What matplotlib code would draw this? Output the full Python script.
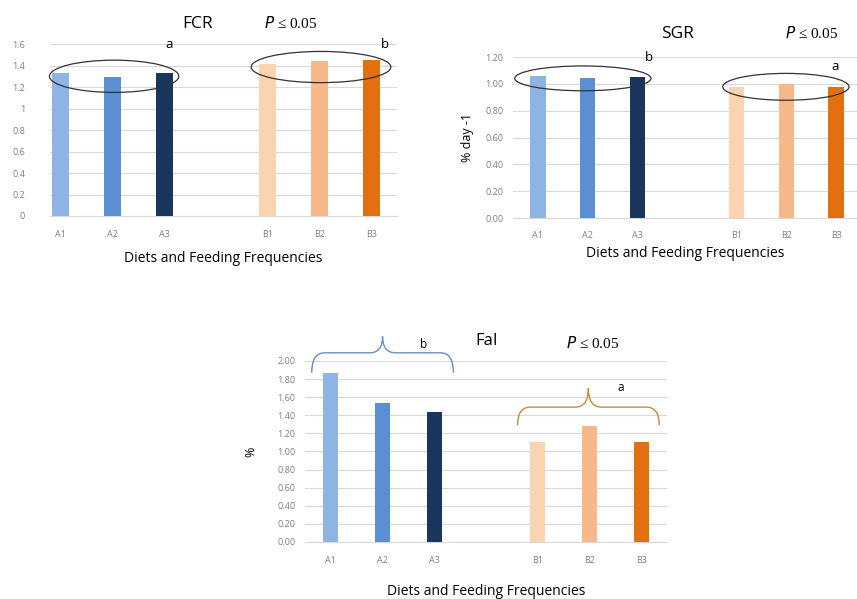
import numpy as np
from matplotlib import pyplot as plt
from matplotlib.patches import Ellipse, PathPatch
from matplotlib.path import Path
from matplotlib.ticker import FuncFormatter

plt.rcParams['font.family'] = ['Open Sans', 'DejaVu Sans']

categories = ['A1', 'A2', 'A3', 'B1', 'B2', 'B3']
fcr = [1.33, 1.29, 1.33, 1.41, 1.44, 1.45]
sgr = [1.06, 1.04, 1.05, 0.98, 1.00, 0.98]
fai = [1.87, 1.54, 1.44, 1.10, 1.28, 1.11]
colors = ['#8DB4E2', '#5A8FD3', '#1B365D', '#FAD4B0', '#F7B98A', '#E2700E']

pos = np.r_[0:3, 4:7]
grid_c = '#D9D9D9'
tick_c = '#7F7F7F'


def style(ax, vals, yticks, fmt, width, ypad=6, xpad=8):
    ax.bar(pos, vals, width=width, color=colors, zorder=3)
    ax.set_xticks(pos)
    ax.set_xticklabels(categories, fontsize=5.5, color=tick_c)
    ax.set_yticks(yticks)
    ax.yaxis.set_major_formatter(FuncFormatter(fmt))
    ax.set_ylim(yticks[0], yticks[-1])
    ax.tick_params(length=0, labelsize=6.5, labelcolor=tick_c)
    ax.tick_params(axis='y', pad=ypad)
    ax.tick_params(axis='x', pad=xpad)
    ax.grid(axis='y', color=grid_c, lw=0.8, zorder=0)
    for s in ['top', 'right', 'left']:
        ax.spines[s].set_visible(False)
    ax.spines['bottom'].set_color(grid_c)
    ax.set_facecolor('none')


def brace(ax, x0, x1, yh, yend, ytip, color):
    xc = (x0 + x1) / 2
    r = 0.25
    verts = [(x0, yend), (x0, yh), (x0 + r, yh),
             (xc - r, yh), (xc, yh), (xc, ytip),
             (xc, yh), (xc + r, yh),
             (x1 - r, yh), (x1, yh), (x1, yend)]
    codes = [Path.MOVETO, Path.CURVE3, Path.CURVE3,
             Path.LINETO, Path.CURVE3, Path.CURVE3,
             Path.CURVE3, Path.CURVE3,
             Path.LINETO, Path.CURVE3, Path.CURVE3]
    ax.add_patch(PathPatch(Path(verts, codes), fill=False, ec=color, lw=1.0,
                           clip_on=False, zorder=5))


fig = plt.figure(figsize=(8.57, 5.99), dpi=100)

pfont = dict(family='Liberation Serif', fontsize=11)
ptext = r'$\it{P}$' + ' ≤ 0.05'

# FCR
ax1 = fig.add_axes([0.0583, 0.6394, 0.405, 0.2871])
style(ax1, fcr, np.arange(0, 1.61, 0.2), lambda v, p: '%g' % round(v, 1), 0.33,
      ypad=18, xpad=10)
ax1.set_xlim(-0.21, 6.5)
ax1.set_xlabel('Diets and Feeding Frequencies', fontsize=10, labelpad=9)
ax1.text(2.65, 1.79, 'FCR', fontsize=12.5, ha='center', va='center')
ax1.text(4.45, 1.8, ptext, ha='center', va='center', **pfont)
ax1.text(2.1, 1.6, 'a', fontsize=9.5, ha='center', va='center')
ax1.text(6.26, 1.6, 'b', fontsize=9.5, ha='center', va='center')
ax1.add_patch(Ellipse((1.03, 1.30), 2.5, 0.30, fill=False, ec='#333333', lw=0.9,
                      clip_on=False, zorder=5))
ax1.add_patch(Ellipse((5.03, 1.386), 2.7, 0.29, fill=False, ec='#333333', lw=0.9,
                      clip_on=False, zorder=5))

# SGR
ax2 = fig.add_axes([0.5986, 0.636, 0.4014, 0.2688])
style(ax2, sgr, np.arange(0, 1.21, 0.2), lambda v, p: '%.2f' % v, 0.31,
      ypad=7, xpad=9)
ax2.set_xlim(-0.5, 6.42)
ax2.set_xlabel('Diets and Feeding Frequencies', fontsize=10, labelpad=5)
ax2.set_ylabel('% day -1', fontsize=9, labelpad=8)
ax2.text(2.8, 1.37, 'SGR', fontsize=12.5, ha='center', va='center')
ax2.text(5.5, 1.38, ptext, ha='center', va='center', **pfont)
ax2.text(2.23, 1.20, 'b', fontsize=9.5, ha='center', va='center')
ax2.text(5.97, 1.13, 'a', fontsize=9.5, ha='center', va='center')
ax2.add_patch(Ellipse((0.905, 1.041), 2.74, 0.185, fill=False, ec='#333333', lw=0.9,
                      clip_on=False, zorder=5))
ax2.add_patch(Ellipse((4.99, 0.978), 2.54, 0.20, fill=False, ec='#333333', lw=0.9,
                      clip_on=False, zorder=5))

# FaI
ax3 = fig.add_axes([0.3559, 0.0952, 0.4224, 0.3022])
style(ax3, fai, np.arange(0, 2.01, 0.2), lambda v, p: '%.2f' % v, 0.29,
      ypad=7, xpad=10)
ax3.set_xlim(-0.5, 6.5)
ax3.set_xlabel('Diets and Feeding Frequencies', fontsize=10, labelpad=14)
ax3.set_ylabel('%', fontsize=9, labelpad=14)
ax3.text(3.01, 2.22, 'FaI', fontsize=12, ha='center', va='center')
ax3.text(5.06, 2.2, ptext, ha='center', va='center', **pfont)
ax3.text(1.79, 2.18, 'b', fontsize=8.5, ha='center', va='center')
ax3.text(5.6, 1.71, 'a', fontsize=8.5, ha='center', va='center')
brace(ax3, -0.37, 2.37, 2.09, 1.87, 2.27, '#6A8EC4')
brace(ax3, 3.61, 6.35, 1.49, 1.29, 1.70, '#C98A3E')

fig.savefig('out.png', dpi=100)
